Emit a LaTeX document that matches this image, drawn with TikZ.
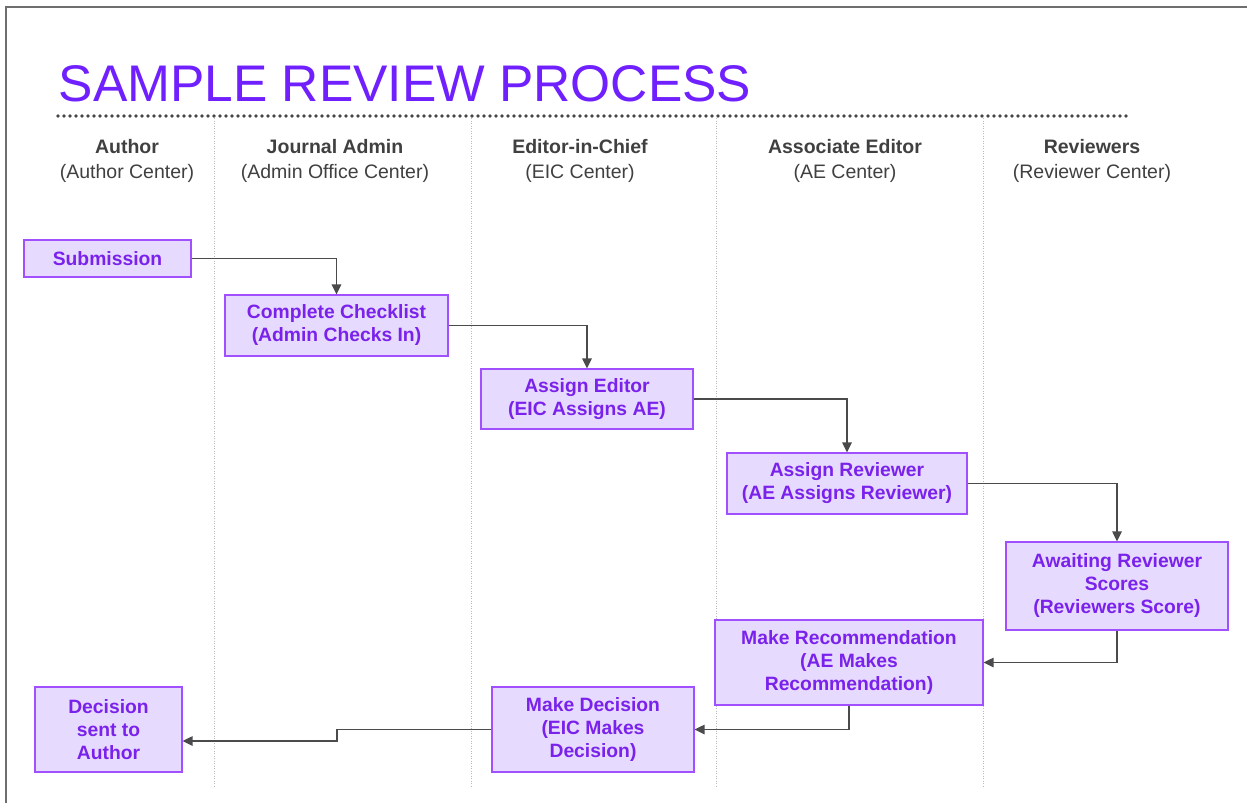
\documentclass[tikz,border=0pt]{standalone}
\usepackage{fontspec}
\setmainfont{Liberation Sans}
\usetikzlibrary{arrows.meta,calc}
\definecolor{titlepurple}{RGB}{112,32,255}
\definecolor{boxfill}{RGB}{230,218,255}
\definecolor{boxline}{RGB}{160,80,255}
\definecolor{boxtext}{RGB}{122,34,235}
\definecolor{headgray}{RGB}{64,64,64}
\definecolor{framegray}{RGB}{110,110,110}
\definecolor{arrowgray}{RGB}{75,75,75}
\definecolor{lanegray}{RGB}{185,185,185}
\definecolor{dotgray}{RGB}{70,70,70}
\begin{document}
\begin{tikzpicture}[x=1pt,y=-1pt,
  procbox/.style={draw=boxline, fill=boxfill, line width=1.2pt, text=boxtext,
    font=\fontsize{19.3}{23}\selectfont\bfseries, align=center, inner sep=0pt},
  flow/.style={draw=arrowgray, line width=1.3pt, -{Triangle[length=10pt,width=9.5pt]}},
  lane/.style={draw=lanegray, line width=0.8pt, dash pattern=on 1pt off 1.5pt},
  header/.style={text=headgray, font=\fontsize{19.5}{24.5}\selectfont, align=center, inner sep=0pt}]
\useasboundingbox (0,0) rectangle (1247,803);
\fill[white] (0,0) rectangle (1247,803);
% frame
\draw[framegray, line width=1.5pt] (6,803) -- (6,7) -- (1247,7);
% title
\node[anchor=base west, inner sep=0pt, text=titlepurple, font=\fontsize{51.5}{60}\selectfont] (title) at (58.5,101) {SAMPLE REVIEW PROCESS};
\draw[dotgray, line width=3.6pt, line cap=round, dash pattern=on 0pt off 6pt] (58,116) -- (1130,116);
% lanes
\foreach \lx in {214,471,716,983} {\draw[lane] (\lx,118) -- (\lx,787);}
% headers
\node[header] (h1) at (127,161) {\textbf{Author}\\(Author Center)};
\node[header] (h2) at (335,161) {\textbf{Journal Admin}\\(Admin Office Center)};
\node[header] (h3) at (580,161) {\textbf{Editor-in-Chief}\\(EIC Center)};
\node[header] (h4) at (845,161) {\textbf{Associate Editor}\\(AE Center)};
\node[header] (h5) at (1092,161) {\textbf{Reviewers}\\(Reviewer Center)};
% boxes
\node[procbox, minimum width=167pt, minimum height=37pt] (sub) at (107.5,258.5) {Submission};
\node[procbox, minimum width=223pt, minimum height=61pt] (chk) at (336.5,325.5) {Complete Checklist\\(Admin Checks In)};
\node[procbox, minimum width=212pt, minimum height=60pt] (ae) at (587,399) {Assign Editor\\(EIC Assigns AE)};
\node[procbox, minimum width=240pt, minimum height=61pt] (ar) at (847,483.5) {Assign Reviewer\\(AE Assigns Reviewer)};
\node[procbox, minimum width=222pt, minimum height=88pt] (aw) at (1117,586) {Awaiting Reviewer\\Scores\\(Reviewers Score)};
\node[procbox, minimum width=268pt, minimum height=85pt] (mr) at (849,662.5) {Make Recommendation\\(AE Makes\\Recommendation)};
\node[procbox, minimum width=202pt, minimum height=85pt] (md) at (593,729.5) {Make Decision\\(EIC Makes\\Decision)};
\node[procbox, minimum width=147pt, minimum height=85pt] (dec) at (108.5,729.5) {Decision\\sent to\\Author};
% connectors
\coordinate (stepx) at (337,0);
\draw[flow] (sub.east) -| (chk.north);
\draw[flow] (chk.east) -| (ae.north);
\draw[flow] (ae.east) -| (ar.north);
\draw[flow] (ar.east) -| (aw.north);
\draw[flow] (aw.south) |- (mr.east);
\draw[flow] (mr.south) |- (md.east);
\draw[flow] (md.west) -- (md.west -| stepx) -- ++(0,11.5) -- ($(dec.east)+(0,11.5)$);
\end{tikzpicture}
\end{document}
